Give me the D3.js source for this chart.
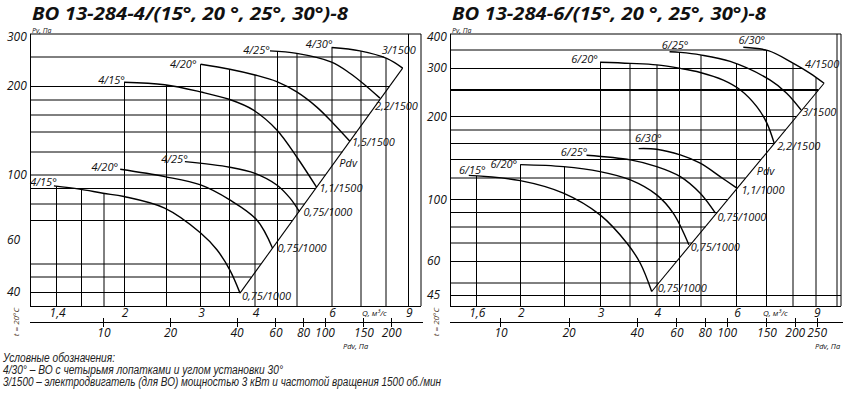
<!DOCTYPE html>
<html lang="ru">
<head>
<meta charset="UTF-8">
<title>ВО 13-284</title>
<script src="https://d3js.org/d3.v7.min.js"></script>
<style>
  body { margin: 0; background: #fff; }
  text { font-family: "Open Sans", sans-serif; font-style: italic; fill: #111; }
</style>
</head>
<body>
<div id="chart"></div>
<script>
const width = 850, height = 400;

// ---------- left chart: ВО 13-284-4 ----------
const leftTitle = "ВО 13-284-4/(15°, 20 °, 25°, 30°)-8";
const leftQDomain = [1.216, 9.63];
const leftPvDomain = [36, 300];
const leftPdvDomain = [4.63, 271.7];
const leftQTicks = [1.4, 2, 3, 4, 6, 9];
const leftPvTicks = [300, 200, 100, 60, 40];
const leftPdvTicks = [10, 20, 40, 60, 80, 100, 150, 200];
const leftQGrid = [1.4, 1.6, 1.8, 2, 2.5, 3, 3.5, 4, 4.5, 5, 6, 7, 8, 9];
const leftPvGrid = [250, 200, 180, 160, 140, 120, 100, 90, 80, 70, 50, 45, 40];
const leftNames = ["4/15°", "4/20°", "4/25°", "4/30°", "4/15°", "4/20°", "4/25°"];
const leftMotors = ["1,1/1500", "1,5/1500", "2,2/1500", "3/1500", "0,75/1000", "0,75/1000", "0,75/1000"];
const leftCurves = [
  [[2.0, 206], [2.48, 202], [3.0, 191], [3.5, 180], [3.96, 166], [4.49, 142], [4.99, 115], [5.54, 90.9]],
  [[3.0, 237], [3.5, 228], [4.0, 218], [4.49, 207], [4.99, 191], [5.54, 170], [6.04, 150], [6.61, 130]],
  [[4.33, 263], [4.99, 258], [6.0, 241], [6.61, 221], [7.09, 204], [7.75, 182]],
  [[6.0, 270], [6.97, 263], [8.03, 248], [8.74, 230]],
  [[1.38, 91.8], [1.58, 89.5], [1.79, 86.7], [2.0, 84.5], [2.48, 77.2], [3.0, 63.6], [3.27, 55.8], [3.5, 47.7], [3.695, 39.8]],
  [[1.96, 104.5], [2.48, 98.7], [3.0, 92.5], [3.5, 82.3], [4.04, 70.4], [4.39, 56.5]],
  [[2.76, 110.9], [3.5, 106.2], [4.0, 101.3], [4.49, 92.5], [4.81, 83.6], [5.06, 75.1]]
];
const leftPdvLine = [[3.695, 39.8], [8.74, 230]];

// ---------- right chart: ВО 13-284-6 ----------
const rightTitle = "ВО 13-284-6/(15°, 20 °, 25°, 30°)-8";
const rightQDomain = [1.40, 10.2];
const rightPvDomain = [41.2, 400];
const rightPdvDomain = [5.95, 318.9];
const rightQTicks = [1.6, 2, 3, 4, 6, 9];
const rightPvTicks = [400, 300, 200, 100, 60, 45];
const rightPdvTicks = [10, 20, 40, 60, 80, 100, 150, 200, 250];
const rightQGrid = [1.6, 2, 2.5, 3, 3.5, 4, 4.5, 5, 6, 7, 8, 9, 10];
const rightPvGrid = [350, 300, 250, 200, 180, 160, 140, 120, 100, 90, 80, 70, 60, 50, 45];
const rightNames = ["6/20°", "6/25°", "6/30°", "6/15°", "6/20°", "6/25°", "6/30°"];
const rightMotors = ["2,2/1500", "3/1500", "4/1500", "0,75/1000", "0,75/1000", "0,75/1000", "1,1/1000"];
const rightCurves = [
  [[3.0, 316], [3.5, 313], [4.0, 309], [4.51, 300], [4.99, 290], [5.61, 272], [6.11, 251], [6.65, 218], [7.0, 190], [7.27, 160]],
  [[4.27, 345], [4.51, 343], [4.99, 336], [5.81, 318], [7.12, 272], [7.74, 244], [8.33, 212]],
  [[6.21, 358], [7.05, 348], [8.01, 313], [8.72, 288], [9.36, 265]],
  [[1.54, 122.7], [2.0, 117.5], [2.49, 105.8], [3.0, 88.2], [3.44, 69.6], [3.68, 58.9], [3.90, 46.5]],
  [[2.0, 134.3], [2.49, 132.1], [3.0, 126.7], [3.5, 118.2], [4.0, 104.3], [4.35, 89.5], [4.71, 68.7]],
  [[2.80, 145.2], [3.5, 139.7], [4.0, 132.1], [4.51, 121.5], [4.99, 105.7], [5.39, 89.5]],
  [[3.65, 153.5], [4.0, 152.7], [4.51, 145.6], [4.99, 135.9], [5.52, 121.5], [6.0, 110.5]]
];
const rightPdvLine = [[3.90, 46.5], [9.36, 265]];

const legendLines = [
  "Условные обозначения:",
  "4/30° – ВО с четырьмя лопатками и углом установки 30°",
  "3/1500 – электродвигатель (для ВО) мощностью 3 кВт и частотой вращения 1500 об./мин"
];

const svg = d3.select("#chart").append("svg")
  .attr("width", width)
  .attr("height", height);

const fmt = d => String(d).replace(".", ",");

function drawChart(cfg) {
  const x = d3.scaleLog().domain(cfg.qDomain).range([cfg.x0, cfg.x1]);
  const y = d3.scaleLog().domain(cfg.pvDomain).range([cfg.y1, cfg.y0]);
  const xPdv = d3.scaleLog().domain(cfg.pdvDomain).range([cfg.x0, cfg.x1]);

  const g = svg.append("g");
  const gridG = g.append("g");
  const curveG = g.append("g");
  const textG = g.append("g");

  // black lines sit on a pixel, grey ones straddle two
  const crisp = v => Math.floor(v) + 0.5;
  const soft = v => Math.round(v);

  // fan curves
  const line = d3.line()
    .x(d => x(d[0]))
    .y(d => y(d[1]))
    .curve(d3.curveCatmullRom.alpha(0.5));

  const paths = curveG.selectAll("path.curve")
    .data(cfg.curves)
    .join("path")
    .attr("class", "curve")
    .attr("d", line)
    .attr("fill", "none")
    .attr("stroke", "#000")
    .attr("stroke-width", 1.4);

  // sample the drawn curves so the grid stops exactly on them
  const polys = paths.nodes().map(node => {
    const len = node.getTotalLength(), pts = [];
    for (let s = 0; s < len; s += 0.5) {
      const p = node.getPointAtLength(s);
      pts.push([p.x, p.y]);
    }
    const e = node.getPointAtLength(len);
    pts.push([e.x, e.y]);
    return pts;
  });

  function topAt(px) {
    let best = null;
    polys.forEach(pts => {
      if (px < pts[0][0] - 1.5 || px > pts[pts.length - 1][0]) return;
      let yy = pts[0][1];
      for (let i = 1; i < pts.length; i++) {
        if (pts[i][0] >= px) {
          const a = pts[i - 1], b = pts[i];
          const t = b[0] === a[0] ? 0 : (px - a[0]) / (b[0] - a[0]);
          yy = a[1] + Math.max(0, Math.min(1, t)) * (b[1] - a[1]);
          break;
        }
      }
      if (best === null || yy < best) best = yy;
    });
    return best === null ? cfg.y0 : best;
  }

  const dA = [x(cfg.pdvLine[0][0]), y(cfg.pdvLine[0][1])];
  const dB = [x(cfg.pdvLine[1][0]), y(cfg.pdvLine[1][1])];

  function rightAt(py) {
    if (py > dA[1] + 0.5) return cfg.x1;
    const outer = polys[cfg.outer];
    if (py < outer[outer.length - 1][1]) {
      for (let i = 1; i < outer.length; i++) {
        if (outer[i][1] >= py) {
          const a = outer[i - 1], b = outer[i];
          const t = (py - a[1]) / ((b[1] - a[1]) || 1);
          return a[0] + t * (b[0] - a[0]);
        }
      }
    }
    return dA[0] + (py - dA[1]) * (dB[0] - dA[0]) / (dB[1] - dA[1]);
  }

  // vertical grid (Q)
  gridG.selectAll("line.vgrid")
    .data(cfg.qGrid)
    .join("line")
    .attr("class", "vgrid")
    .attr("x1", q => cfg.qSoft.includes(q) ? soft(x(q)) : crisp(x(q)))
    .attr("x2", q => cfg.qSoft.includes(q) ? soft(x(q)) : crisp(x(q)))
    .attr("y1", cfg.y1)
    .attr("y2", q => topAt(x(q)))
    .attr("stroke", "#000")
    .attr("stroke-width", 1);

  // horizontal grid (Pv)
  const hy = v => cfg.pvThick.includes(v) ? Math.round(y(v)) : cfg.pvSoft.includes(v) ? soft(y(v)) : crisp(y(v));
  gridG.selectAll("line.hgrid")
    .data(cfg.pvGrid)
    .join("line")
    .attr("class", "hgrid")
    .attr("x1", cfg.x0)
    .attr("x2", v => rightAt(y(v)))
    .attr("y1", hy)
    .attr("y2", hy)
    .attr("stroke", "#000")
    .attr("stroke-width", v => cfg.pvThick.includes(v) ? 2 : 1);

  // frame
  const frame = [
    [crisp(cfg.x0), cfg.y0, crisp(cfg.x0), cfg.y1],
    [cfg.x0, crisp(cfg.y1), cfg.x1, crisp(cfg.y1)],
    [cfg.x0, soft(cfg.y0), cfg.x1, soft(cfg.y0)],
    [soft(cfg.x1), cfg.y0, soft(cfg.x1), cfg.y1]
  ];
  gridG.selectAll("line.frame")
    .data(frame)
    .join("line")
    .attr("class", "frame")
    .attr("x1", d => d[0]).attr("y1", d => d[1])
    .attr("x2", d => d[2]).attr("y2", d => d[3])
    .attr("stroke", "#000")
    .attr("stroke-width", 1);

  // Pdv line through the curve ends
  curveG.append("line")
    .attr("x1", dA[0]).attr("y1", dA[1])
    .attr("x2", dB[0]).attr("y2", dB[1])
    .attr("stroke", "#000")
    .attr("stroke-width", 1.1);

  const pdvT = 0.58;
  textG.append("text")
    .attr("x", dA[0] + pdvT * (dB[0] - dA[0]) + 5)
    .attr("y", dA[1] + pdvT * (dB[1] - dA[1]) + 4)
    .style("font-size", "11px")
    .text("Pdv");

  // curve names and motor labels
  textG.selectAll("text.name")
    .data(cfg.curves)
    .join("text")
    .attr("class", "name")
    .attr("x", (d, i) => x(d[0][0]) + cfg.startNudge[i][0])
    .attr("y", (d, i) => y(d[0][1]) + cfg.startNudge[i][1])
    .attr("text-anchor", "end")
    .style("font-size", "11px")
    .text((d, i) => cfg.names[i]);

  textG.selectAll("text.motor")
    .data(cfg.curves)
    .join("text")
    .attr("class", "motor")
    .attr("x", (d, i) => x(d[d.length - 1][0]) + cfg.endNudge[i][0])
    .attr("y", (d, i) => y(d[d.length - 1][1]) + cfg.endNudge[i][1])
    .style("font-size", "11px")
    .text((d, i) => cfg.motors[i]);

  // Pv tick labels
  textG.selectAll("text.pv")
    .data(cfg.pvTicks)
    .join("text")
    .attr("class", "pv")
    .attr("x", cfg.pvLabelX)
    .attr("y", v => Math.max(y(v) + 4, cfg.y0 + 7))
    .style("font-size", "12px")
    .text(v => v);

  // Q tick labels
  textG.selectAll("text.q")
    .data(cfg.qTicks)
    .join("text")
    .attr("class", "q")
    .attr("x", q => x(q) + 1)
    .attr("y", cfg.y1 + 11)
    .attr("text-anchor", "middle")
    .style("font-size", "12px")
    .text(fmt);

  // Pdv axis
  gridG.append("line")
    .attr("x1", cfg.x0).attr("x2", cfg.x1 + 2)
    .attr("y1", cfg.pdvY + 0.5).attr("y2", cfg.pdvY + 0.5)
    .attr("stroke", "#000").attr("stroke-width", 1);
  gridG.selectAll("line.pdvtick")
    .data(cfg.pdvTicks)
    .join("line")
    .attr("class", "pdvtick")
    .attr("x1", v => crisp(xPdv(v))).attr("x2", v => crisp(xPdv(v)))
    .attr("y1", cfg.pdvY - 4).attr("y2", cfg.pdvY + 5)
    .attr("stroke", "#000").attr("stroke-width", 1);
  textG.selectAll("text.pdv")
    .data(cfg.pdvTicks)
    .join("text")
    .attr("class", "pdv")
    .attr("x", v => xPdv(v))
    .attr("y", cfg.pdvY + 15)
    .attr("text-anchor", "middle")
    .style("font-size", "12px")
    .text(v => v);

  // axis names and title
  textG.append("text")
    .attr("x", cfg.x0 + 2).attr("y", cfg.y0 - 1)
    .style("font-size", "7px")
    .text("Pv, Па");
  textG.append("text")
    .attr("x", cfg.qLabelX).attr("y", cfg.y1 + 10)
    .style("font-size", "8px")
    .text("Q, м³/с");
  textG.append("text")
    .attr("x", cfg.pdvLabelX).attr("y", cfg.pdvY + 27)
    .style("font-size", "7.5px")
    .text("Pdv, Па");
  textG.append("text")
    .attr("transform", `translate(${cfg.x0 - 11},${cfg.y1 + 16}) rotate(-90)`)
    .attr("text-anchor", "middle")
    .style("font-size", "8px")
    .style("fill", "#4a3320")
    .text("t = 20°C");
  textG.append("text")
    .attr("x", cfg.x0 + 2).attr("y", 20)
    .attr("textLength", cfg.titleWidth)
    .attr("lengthAdjust", "spacingAndGlyphs")
    .style("font-size", "17.5px")
    .style("font-weight", "bold")
    .text(cfg.title);
}

drawChart({
  title: leftTitle, titleWidth: 316,
  x0: 30, x1: 421, y0: 34, y1: 306, pdvY: 322,
  qDomain: leftQDomain, pvDomain: leftPvDomain, pdvDomain: leftPdvDomain,
  qTicks: leftQTicks, pvTicks: leftPvTicks, pdvTicks: leftPdvTicks,
  qGrid: leftQGrid, pvGrid: leftPvGrid,
  qSoft: [1.8, 4, 5, 6, 7, 8],
  pvSoft: [250, 180, 160, 140, 120, 100, 80, 50, 45],
  pvThick: [],
  curves: leftCurves, names: leftNames, motors: leftMotors,
  pdvLine: leftPdvLine, outer: 3,
  startNudge: [[1, 2], [-4, 4], [0, 3], [1, 0], [3, 0], [-2, 2], [3, 1]],
  endNudge: [[3, 5], [2, 5], [-5, 12], [-21, -14], [2, 7], [5, 4], [4, 4]],
  pvLabelX: 7, qLabelX: 362, pdvLabelX: 343
});

drawChart({
  title: rightTitle, titleWidth: 314,
  x0: 450, x1: 841, y0: 34, y1: 306, pdvY: 322,
  qDomain: rightQDomain, pvDomain: rightPvDomain, pdvDomain: rightPdvDomain,
  qTicks: rightQTicks, pvTicks: rightPvTicks, pdvTicks: rightPdvTicks,
  qGrid: rightQGrid, pvGrid: rightPvGrid,
  qSoft: [3.5, 4, 5, 8, 9, 10],
  pvSoft: [350, 180, 120, 80, 70, 50],
  pvThick: [250],
  curves: rightCurves, names: rightNames, motors: rightMotors,
  pdvLine: rightPdvLine, outer: 2,
  startNudge: [[-2, 1], [19, -3], [22, -3], [17, -1.5], [-3, 3], [1, 1], [23, -7]],
  endNudge: [[3, 6], [1, 6], [-19, -15], [6, 0], [2, 6], [2, 8], [5, 6]],
  pvLabelX: 427, qLabelX: 763, pdvLabelX: 815
});

// legend
svg.append("g").selectAll("text")
  .data(legendLines)
  .join("text")
  .attr("x", 3)
  .attr("y", (d, i) => 361.5 + i * 12.4)
  .attr("textLength", (d, i) => [112, 280, 438][i])
  .attr("lengthAdjust", "spacingAndGlyphs")
  .style("font-family", '"Liberation Sans Narrow", "Liberation Sans", sans-serif')
  .style("font-size", "12px")
  .style("fill", "#222")
  .text(d => d);
</script>
</body>
</html>
